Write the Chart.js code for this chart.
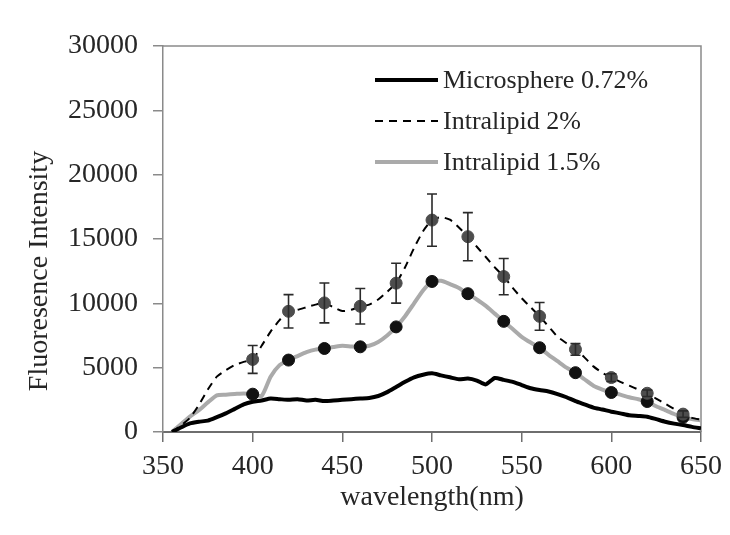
<!DOCTYPE html>
<html>
<head>
<meta charset="utf-8">
<script src="https://cdn.jsdelivr.net/npm/chart.js@4.4.1/dist/chart.umd.min.js"></script>
<style>
    html, body { margin: 0; padding: 0; background: #fff; }
    #wrap { width: 730px; height: 535px; }
</style>
</head>
<body>
<div id="wrap"><canvas id="chart" width="730" height="535"></canvas></div>
<script>
// Datos
const wavelength = [355, 360, 365, 370, 375, 380, 385, 390, 395, 400,
    405, 410, 415, 420, 425, 430, 435, 440, 445, 450,
    455, 460, 465, 470, 475, 480, 485, 490, 495, 500,
    505, 510, 515, 520, 525, 530, 535, 540, 545, 550,
    555, 560, 565, 570, 575, 580, 585, 590, 595, 600,
    605, 610, 615, 620, 625, 630, 635, 640, 645, 650];

const microsphere = [0, 350, 670, 800, 880, 1150, 1450, 1800, 2150, 2350,
    2450, 2600, 2550, 2500, 2550, 2450, 2500, 2400, 2450, 2500,
    2550, 2600, 2650, 2800, 3100, 3500, 3900, 4250, 4450, 4560,
    4400, 4250, 4100, 4150, 4000, 3700, 4200, 4050, 3900, 3650,
    3400, 3260, 3150, 2950, 2700, 2400, 2150, 1900, 1750, 1580,
    1450, 1300, 1250, 1190, 1000, 800, 650, 540, 400, 290];

const intralipid2 = [0, 500, 1100, 2100, 3300, 4300, 4800, 5200, 5450, 5640,
    6700, 7800, 8700, 9380, 9500, 9700, 9900, 10030, 9700, 9400,
    9500, 9770, 9900, 10300, 10900, 11570, 12800, 14300, 15600, 16470,
    16700, 16500, 15900, 15180, 14400, 13600, 12800, 12080, 11200, 10400,
    9700, 8990, 8200, 7400, 6900, 6420, 5800, 5100, 4600, 4230,
    3900, 3600, 3300, 3010, 2600, 2200, 1800, 1390, 1100, 950];

const intralipid15 = [0, 600, 1200, 1700, 2300, 2850, 2900, 2950, 3000, 2940,
    2800, 4300, 5200, 5590, 5900, 6200, 6400, 6490, 6600, 6700,
    6650, 6620, 6700, 7000, 7500, 8170, 9000, 10000, 11000, 11700,
    11750, 11500, 11200, 10750, 10300, 9800, 9200, 8600, 8000, 7400,
    6950, 6550, 6000, 5500, 5000, 4610, 4100, 3600, 3300, 3070,
    2900, 2700, 2550, 2370, 2000, 1700, 1400, 1140, 1000, 900];

const markerWavelength = [400, 420, 440, 460, 480, 500, 520, 540, 560, 580, 600, 620, 640];
const intralipid2Marks = [5640, 9380, 10030, 9770, 11570, 16470, 15180, 12080, 8990, 6420, 4230, 3010, 1390];
const intralipid2Err = [1080, 1300, 1550, 1380, 1550, 2030, 1870, 1410, 1080, 450, 300, 250, 250];
const intralipid15Marks = [2940, 5590, 6490, 6620, 8170, 11700, 10750, 8600, 6550, 4610, 3070, 2370, 1140];

const xTicks = [350, 400, 450, 500, 550, 600, 650];
const yTicks = [0, 5000, 10000, 15000, 20000, 25000, 30000];

const seriesNames = ['Microsphere 0.72%', 'Intralipid 2%', 'Intralipid 1.5%'];

const FONT = "'Liberation Serif', 'Times New Roman', serif";
const TEXT = '#262626';

function toPoints(xs, ys) {
    return xs.map((x, i) => ({ x: x, y: ys[i] }));
}

// Barras de error, marco, leyenda y titulo Y
const extras = {
    id: 'extras',
    beforeDatasetsDraw(chart) {
        const { ctx, chartArea } = chart;
        ctx.save();
        ctx.strokeStyle = '#8a8a8a';
        ctx.lineWidth = 1.5;
        ctx.beginPath();
        ctx.moveTo(chartArea.left, chartArea.top);
        ctx.lineTo(chartArea.right, chartArea.top);
        ctx.lineTo(chartArea.right, chartArea.bottom);
        ctx.stroke();
        ctx.restore();
    },
    afterDatasetsDraw(chart) {
        const { ctx, scales } = chart;
        const x = scales.x, y = scales.y;
        ctx.save();
        ctx.strokeStyle = '#2a2a2a';
        ctx.lineWidth = 1.6;
        markerWavelength.forEach((w, i) => {
            const px = x.getPixelForValue(w);
            const top = y.getPixelForValue(intralipid2Marks[i] + intralipid2Err[i]);
            const bot = y.getPixelForValue(intralipid2Marks[i] - intralipid2Err[i]);
            ctx.beginPath();
            ctx.moveTo(px, top); ctx.lineTo(px, bot);
            ctx.moveTo(px - 5, top); ctx.lineTo(px + 5, top);
            ctx.moveTo(px - 5, bot); ctx.lineTo(px + 5, bot);
            ctx.stroke();
        });
        ctx.restore();
    },
    afterDraw(chart) {
        const { ctx } = chart;
        ctx.save();
        // leyenda
        const rows = [
            { y: 80, color: '#000', width: 4, dash: [] },
            { y: 121, color: '#000', width: 2, dash: [8, 6] },
            { y: 162, color: '#aaaaaa', width: 4, dash: [] }
        ];
        rows.forEach((r, i) => {
            ctx.strokeStyle = r.color;
            ctx.lineWidth = r.width;
            ctx.setLineDash(r.dash);
            ctx.beginPath();
            ctx.moveTo(375, r.y);
            ctx.lineTo(438, r.y);
            ctx.stroke();
            ctx.setLineDash([]);
            ctx.fillStyle = TEXT;
            ctx.font = '26px ' + FONT;
            ctx.textAlign = 'left';
            ctx.textBaseline = 'middle';
            ctx.fillText(seriesNames[i], 443, r.y + 1);
        });
        // titulo eje Y
        ctx.translate(47, 271);
        ctx.rotate(-Math.PI / 2);
        ctx.fillStyle = TEXT;
        ctx.font = '28px ' + FONT;
        ctx.textAlign = 'center';
        ctx.textBaseline = 'alphabetic';
        ctx.fillText('Fluoresence Intensity', 0, 0);
        ctx.restore();
    }
};

new Chart(document.getElementById('chart'), {
    type: 'line',
    data: {
        datasets: [
            {
                label: seriesNames[1] + ' markers',
                data: toPoints(markerWavelength, intralipid2Marks),
                showLine: false,
                pointRadius: 6,
                pointBackgroundColor: '#4d4d4d',
                pointBorderColor: '#4d4d4d'
            },
            {
                label: seriesNames[2] + ' markers',
                data: toPoints(markerWavelength, intralipid15Marks),
                showLine: false,
                pointRadius: 6,
                pointBackgroundColor: '#111',
                pointBorderColor: '#111'
            },
            {
                label: seriesNames[0],
                data: toPoints(wavelength, microsphere),
                borderColor: '#000',
                borderWidth: 4,
                pointRadius: 0,
                tension: 0.2
            },
            {
                label: seriesNames[1],
                data: toPoints(wavelength, intralipid2),
                borderColor: '#000',
                borderWidth: 2,
                borderDash: [8, 6],
                pointRadius: 0,
                tension: 0.2
            },
            {
                label: seriesNames[2],
                data: toPoints(wavelength, intralipid15),
                borderColor: '#aaaaaa',
                borderWidth: 4,
                pointRadius: 0,
                tension: 0.2
            }
        ]
    },
    options: {
        responsive: false,
        animation: false,
        devicePixelRatio: 1,
        layout: { padding: { left: 10, top: 46, right: 27, bottom: 8 } },
        plugins: { legend: { display: false }, tooltip: { enabled: false } },
        scales: {
            x: {
                type: 'linear',
                min: 350,
                max: 650,
                afterFit: s => { s.height = 535 - 432 - 8; },
                afterBuildTicks: s => { s.ticks = xTicks.map(v => ({ value: v })); },
                border: { color: '#6e6e6e', width: 2 },
                grid: { drawOnChartArea: false, tickLength: 10, color: '#6e6e6e', lineWidth: 1.5 },
                ticks: { font: { family: FONT, size: 28 }, color: TEXT, padding: 8, maxRotation: 0, callback: v => String(v) },
                title: {
                    display: true,
                    text: 'wavelength(nm)',
                    font: { family: FONT, size: 28 },
                    color: TEXT,
                    padding: { top: 0, bottom: 13 }
                }
            },
            y: {
                min: 0,
                max: 30000,
                afterFit: s => { s.width = 163 - 10; },
                afterBuildTicks: s => { s.ticks = yTicks.map(v => ({ value: v })); },
                border: { color: '#8a8a8a', width: 1.5 },
                grid: { drawOnChartArea: false, tickLength: 10, color: '#8a8a8a', lineWidth: 1.5 },
                ticks: { font: { family: FONT, size: 28 }, color: TEXT, padding: 15, callback: v => String(v) }
            }
        }
    },
    plugins: [extras]
});
</script>
</body>
</html>
